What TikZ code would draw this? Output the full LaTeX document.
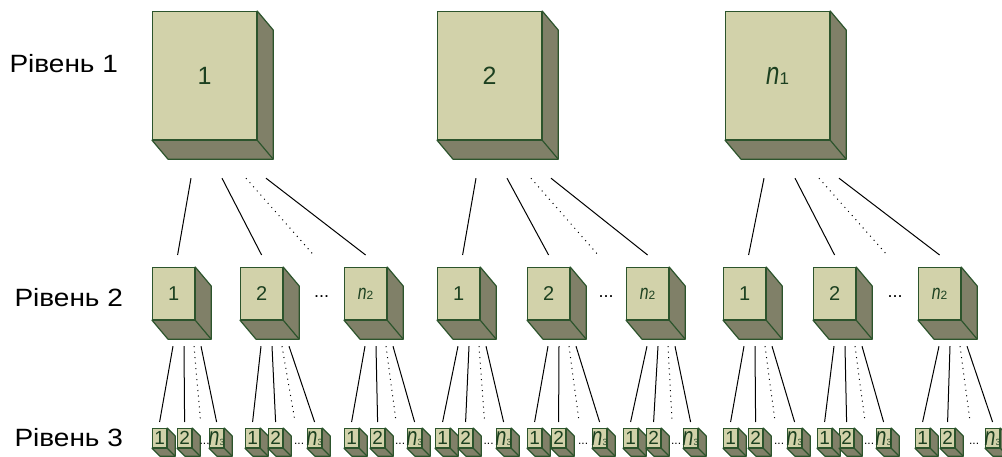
\documentclass[tikz,border=0pt]{standalone}
\usepackage{fontspec}
\setmainfont{Liberation Sans}
\usetikzlibrary{calc,positioning}

\definecolor{front}{RGB}{210,210,170}
\definecolor{shade}{RGB}{128,128,104}
\definecolor{rim}{RGB}{44,84,44}
\definecolor{digit}{RGB}{28,64,32}

% side and bottom faces of a block
\newcommand{\faces}[2]{%
  \filldraw[faces] (#1.north east) -- ++(#2) -- ($(#1.south east)+(#2)$)
    -- ($(#1.south west)+(#2)$) -- (#1.south west) -- (#1.south east) -- cycle;
  \draw[faces] (#1.south east) -- ++(#2);
}

% italic n with its index
\newcommand{\nidx}[3]{\scalebox{.75}[1]{\fontsize{#1}{#1}\selectfont\itshape n}{\fontsize{#2}{#2}\selectfont #3}}

% links from a top block to its three children
\newcommand{\fan}[4]{%
  \draw ($(#1.south west)+(39,38)$) -- ($(#2.north)+(4,-12)$);
  \draw ($(#1.south west)+(70,38)$) -- ($(#3.north)+(0,-12)$);
  \draw[dotline] ($(#1.south west)+(94,38)$) -- ($(#3.north)!.5!(#4.north)+(0,-12)$);
  \draw ($(#1.south west)+(114,38)$) -- ($(#4.north)+(0,-12)$);
  \node[dotsep,font=\fontsize{18}{18}\selectfont] at ($(#3.east)!.5!(#4.west)+(8,3)$) {...};
}

% three small blocks under a middle block
\newcommand{\lowrow}[4]{%
  \node[smallblk] (#1a) at (#2,428) {1};
  \node[smallblk] (#1b) at (#3,428) {2};
  \node[smallblk] (#1c) at (#4,428) {\makebox[0pt]{\nidx{26}{9}{3}}};
  \faces{#1a}{8,8}\faces{#1b}{8,8}\faces{#1c}{8,8}
  \node[dotsep,font=\fontsize{12}{12}\selectfont] at ($(#1b.south east)!.5!(#1c.south west)+(4,-4)$) {...};
  \draw ($(#1.south west)+(21,26)$) -- ($(#1a.north)+(0,-6)$);
  \draw ($(#1.south west)+(32,26)$) -- ($(#1b.north)+(0,-6)$);
  \draw[dotline] ($(#1.south west)+(42,26)$) -- ($(#1b.north east)!.5!(#1c.north west)+(0,-6)$);
  \draw ($(#1.south west)+(49,26)$) -- ($(#1c.north)+(0,-6)$);
}

\begin{document}
\begin{tikzpicture}[x=1pt,y=-1pt,line width=1pt,
    blk/.style={rectangle,draw=rim,fill=front,text=digit,line width=1.2pt,anchor=north west,inner sep=0pt},
    bigblk/.style={blk,minimum width=104pt,minimum height=128pt,font=\fontsize{25}{25}\selectfont},
    midblk/.style={blk,minimum width=42pt,minimum height=52pt,font=\fontsize{20}{20}\selectfont},
    smallblk/.style={blk,minimum width=14pt,minimum height=19pt,font=\fontsize{19}{19}\selectfont},
    faces/.style={draw=rim,fill=shade,line width=1.2pt,line join=round},
    dotline/.style={dash pattern=on 1pt off 4.5pt},
    dotsep/.style={inner sep=0pt},
    lvl/.style={anchor=base west,inner sep=0pt,font=\fontsize{25}{25}\selectfont},
]

\fill[white] (0,0) rectangle (1002,457);
\useasboundingbox (0,0) rectangle (1002,457);

% level names
\node[lvl] (lvl1) at (9,73) {\scalebox{1.12}[1]{Рівень 1}};
\node[lvl] (lvl2) at (14,307) {\scalebox{1.12}[1]{Рівень 2}};
\node[lvl] (lvl3) at (14,446) {\scalebox{1.12}[1]{Рівень 3}};

% level 1
\node[bigblk] (top1) at (152,11) {1};
\node[bigblk] (top2) at (437,11) {2};
\node[bigblk] (top3) at (725,11) {\nidx{32}{17}{1}};
\faces{top1}{16,19}\faces{top2}{16,19}\faces{top3}{16,19}

% level 2
\node[midblk] (mid11) at (152,267) {1};
\node[midblk] (mid12) at (240,267) {2};
\node[midblk] (mid13) at (344,267) {\nidx{21}{12}{2}};
\node[midblk] (mid21) at (437,267) {1};
\node[midblk] (mid22) at (527,267) {2};
\node[midblk] (mid23) at (626,267) {\nidx{21}{12}{2}};
\node[midblk] (mid31) at (723,267) {1};
\node[midblk] (mid32) at (813,267) {2};
\node[midblk] (mid33) at (918,267) {\nidx{21}{12}{2}};
\foreach \m in {mid11,mid12,mid13,mid21,mid22,mid23,mid31,mid32,mid33}
    \faces{\m}{16,19};

\fan{top1}{mid11}{mid12}{mid13}
\fan{top2}{mid21}{mid22}{mid23}
\fan{top3}{mid31}{mid32}{mid33}

% level 3
\lowrow{mid11}{152}{177}{209}
\lowrow{mid12}{245}{268}{307}
\lowrow{mid13}{344}{370}{407}
\lowrow{mid21}{435}{458}{496}
\lowrow{mid22}{527}{551}{592}
\lowrow{mid23}{623}{646}{683}
\lowrow{mid31}{723}{748}{787}
\lowrow{mid32}{817}{839}{876}
\lowrow{mid33}{915}{940}{985}

\end{tikzpicture}
\end{document}
